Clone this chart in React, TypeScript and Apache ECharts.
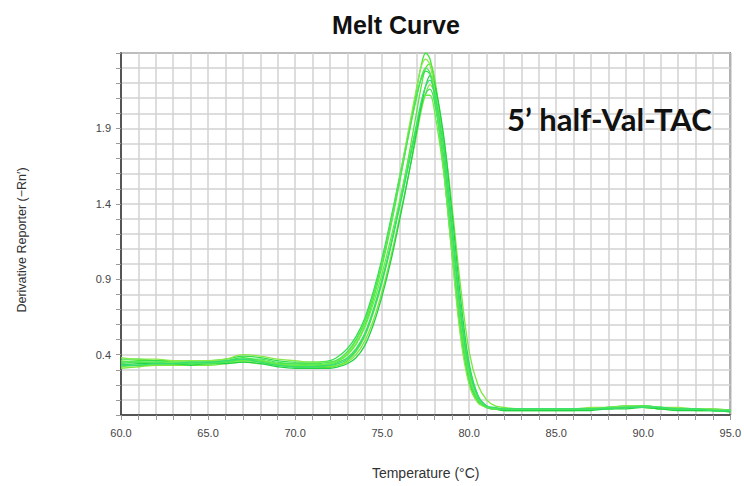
import React, { useEffect, useRef } from "react";
import * as echarts from "echarts";

const TEMPS = [60, 61, 62, 63, 64, 65, 66, 67, 68, 69, 70, 71, 72, 72.5, 73, 73.5, 74, 74.5, 75, 75.5, 76, 76.5, 77, 77.25, 77.5, 77.75, 78, 78.5, 79, 79.5, 80, 80.5, 81, 81.5, 82, 83, 84, 85, 86, 87, 88, 89, 90, 91, 92, 93, 94, 95];

const well1 = [0.35,0.36,0.36,0.35,0.35,0.35,0.36,0.38,0.36,0.34,0.34,0.33,0.34, 0.36,0.40,0.47,0.59,0.77,0.99,1.25,1.54,1.85,2.17, 2.32,2.40,2.36, 2.20,1.72,1.12,0.56,0.22,0.09,0.05,0.04,0.04, 0.04,0.04,0.04,0.04,0.04,0.05,0.05,0.05,0.04,0.04,0.04,0.03,0.03];
const well2 = [0.32,0.33,0.33,0.33,0.34,0.34,0.35,0.36,0.35,0.33,0.32,0.32,0.32, 0.33,0.36,0.42,0.52,0.68,0.88,1.12,1.40,1.70,2.02, 2.18,2.30,2.33, 2.24,1.84,1.26,0.66,0.27,0.10,0.05,0.04,0.03, 0.03,0.03,0.03,0.03,0.04,0.04,0.05,0.05,0.04,0.04,0.03,0.03,0.03];
const well3 = [0.37,0.37,0.36,0.36,0.36,0.36,0.37,0.39,0.38,0.36,0.35,0.35,0.36, 0.39,0.44,0.52,0.64,0.82,1.04,1.30,1.58,1.86,2.12, 2.23,2.28,2.26, 2.12,1.66,1.08,0.55,0.22,0.09,0.05,0.04,0.04, 0.04,0.04,0.04,0.04,0.04,0.05,0.06,0.06,0.05,0.04,0.04,0.04,0.03];
const well4 = [0.31,0.32,0.33,0.33,0.33,0.33,0.34,0.35,0.34,0.33,0.32,0.31,0.32, 0.33,0.35,0.40,0.49,0.63,0.82,1.05,1.31,1.58,1.87, 2.02,2.13,2.19, 2.14,1.86,1.40,0.86,0.42,0.20,0.10,0.06,0.05, 0.04,0.04,0.04,0.04,0.04,0.04,0.05,0.05,0.05,0.04,0.04,0.03,0.03];
const well5 = [0.34,0.35,0.34,0.34,0.34,0.35,0.35,0.37,0.36,0.34,0.33,0.33,0.33, 0.35,0.38,0.44,0.54,0.70,0.90,1.13,1.38,1.65,1.92, 2.05,2.13,2.16, 2.08,1.74,1.22,0.68,0.30,0.12,0.06,0.04,0.04, 0.04,0.04,0.04,0.04,0.04,0.05,0.05,0.06,0.05,0.04,0.04,0.03,0.03];
const well6 = [0.36,0.35,0.35,0.35,0.35,0.34,0.35,0.36,0.36,0.34,0.33,0.33,0.34, 0.36,0.40,0.47,0.58,0.74,0.94,1.17,1.42,1.68,1.93, 2.05,2.12,2.12, 2.02,1.64,1.12,0.60,0.26,0.10,0.05,0.04,0.04, 0.04,0.04,0.04,0.04,0.04,0.04,0.05,0.05,0.04,0.04,0.04,0.03,0.03];
const well7 = [0.33,0.34,0.34,0.34,0.33,0.34,0.34,0.35,0.34,0.32,0.31,0.31,0.31, 0.32,0.34,0.38,0.46,0.60,0.79,1.02,1.29,1.58,1.89, 2.05,2.18,2.25, 2.20,1.88,1.36,0.78,0.34,0.13,0.06,0.04,0.03, 0.03,0.03,0.03,0.03,0.03,0.04,0.04,0.05,0.04,0.03,0.03,0.03,0.02];
const well8 = [0.38,0.37,0.37,0.36,0.36,0.36,0.37,0.40,0.39,0.37,0.36,0.35,0.35, 0.37,0.41,0.49,0.61,0.79,1.01,1.27,1.57,1.88,2.18, 2.31,2.36,2.32, 2.16,1.68,1.08,0.52,0.20,0.08,0.05,0.04,0.04, 0.04,0.04,0.04,0.04,0.05,0.05,0.06,0.06,0.05,0.05,0.04,0.04,0.03];
const well9 = [0.35,0.35,0.35,0.34,0.34,0.34,0.35,0.37,0.37,0.35,0.34,0.34,0.35, 0.37,0.42,0.50,0.62,0.80,1.02,1.28,1.56,1.84,2.12, 2.24,2.30,2.27, 2.12,1.70,1.14,0.60,0.24,0.10,0.05,0.04,0.04, 0.04,0.04,0.04,0.04,0.04,0.05,0.05,0.06,0.05,0.04,0.04,0.03,0.03];
const well10 = [0.33,0.33,0.34,0.34,0.35,0.35,0.36,0.37,0.35,0.33,0.32,0.32,0.33, 0.34,0.37,0.43,0.53,0.69,0.89,1.12,1.38,1.65,1.94, 2.08,2.18,2.22, 2.14,1.80,1.28,0.72,0.32,0.13,0.06,0.05,0.04, 0.04,0.04,0.04,0.04,0.04,0.04,0.05,0.05,0.05,0.04,0.04,0.03,0.03];

const WELLS = [well1, well2, well3, well4, well5, well6, well7, well8, well9, well10];
const COLORS = ["#3ee83a", "#5ae63c", "#2fe04a", "#7ae83a", "#44dd55", "#66ee44", "#22d444", "#8ae84a", "#4ce65a", "#35e070"];

const TITLE = "Melt Curve";
const ANNOTATION = "5\u2019 half-Val-TAC";
const X_NAME = "Temperature (\u00B0C)";
const Y_NAME = "Derivative Reporter (\u2212Rn\u2032)";
const Y_LABEL_VALUES = [0.4, 0.9, 1.4, 1.9];

export default function App() {
  const ref = useRef<HTMLDivElement>(null);
  useEffect(() => {
    document.body.style.margin = "0";
    const chart = echarts.init(ref.current!, null, { renderer: "svg" });
    const axisFont = { fontFamily: "Liberation Sans", fontSize: 11, color: "#444" };
    chart.setOption({
      animation: false,
      backgroundColor: "#ffffff",
      title: {
        text: TITLE,
        left: 391,
        top: 7,
        textAlign: "center",
        textStyle: { fontFamily: "Liberation Sans", fontWeight: "bold", fontSize: 25, color: "#111" },
      },
      grid: {
        left: 121,
        top: 53,
        width: 610,
        height: 362,
        show: true,
        borderColor: "#555",
        borderWidth: 1.5,
        backgroundColor: "#ffffff",
      },
      xAxis: {
        type: "value",
        min: 60,
        max: 95,
        interval: 1,
        name: X_NAME,
        nameLocation: "middle",
        nameGap: 51,
        nameTextStyle: { ...axisFont, fontSize: 14, color: "#333" },
        axisLine: { lineStyle: { color: "#333", width: 1.5 } },
        axisTick: { show: true, length: 5, lineStyle: { color: "#999" } },
        axisLabel: {
          ...axisFont,
          margin: 12,
          formatter: (v: number) => (Math.abs(v % 5) < 1e-6 ? v.toFixed(1) : ""),
        },
        splitLine: { show: true, lineStyle: { color: "#d2d2d2", width: 1.5 } },
      },
      yAxis: {
        type: "value",
        min: 0,
        max: 2.4,
        interval: 0.1,
        name: Y_NAME,
        nameLocation: "middle",
        nameGap: 93,
        nameTextStyle: { ...axisFont, fontSize: 12.5, color: "#333", padding: [0, 12, 0, 0] },
        axisLine: { show: true, lineStyle: { color: "#333", width: 1.5 } },
        axisTick: { show: true, length: 5, lineStyle: { color: "#999" } },
        axisLabel: {
          ...axisFont,
          margin: 10,
          formatter: (v: number) =>
            Y_LABEL_VALUES.some((t) => Math.abs(t - v) < 1e-6) ? v.toFixed(1) : "",
        },
        splitLine: { show: true, lineStyle: { color: "#d2d2d2", width: 1.5 } },
      },
      graphic: [
        {
          type: "text",
          left: 507,
          top: 103,
          style: {
            text: ANNOTATION,
            font: "bold 31px Lato",
            fill: "#111",
          },
          z: 100,
        },
      ],
      series: WELLS.map((vals, i) => ({
        type: "line",
        name: "Well " + (i + 1),
        data: TEMPS.map((t, j) => [t, vals[j]]),
        showSymbol: false,
        smooth: 0.35,
        lineStyle: { width: 1.3, color: COLORS[i] },
        itemStyle: { color: COLORS[i] },
        z: 5,
      })),
    });
    return () => chart.dispose();
  }, []);
  return <div ref={ref} style={{ width: 744, height: 486 }} />;
}
